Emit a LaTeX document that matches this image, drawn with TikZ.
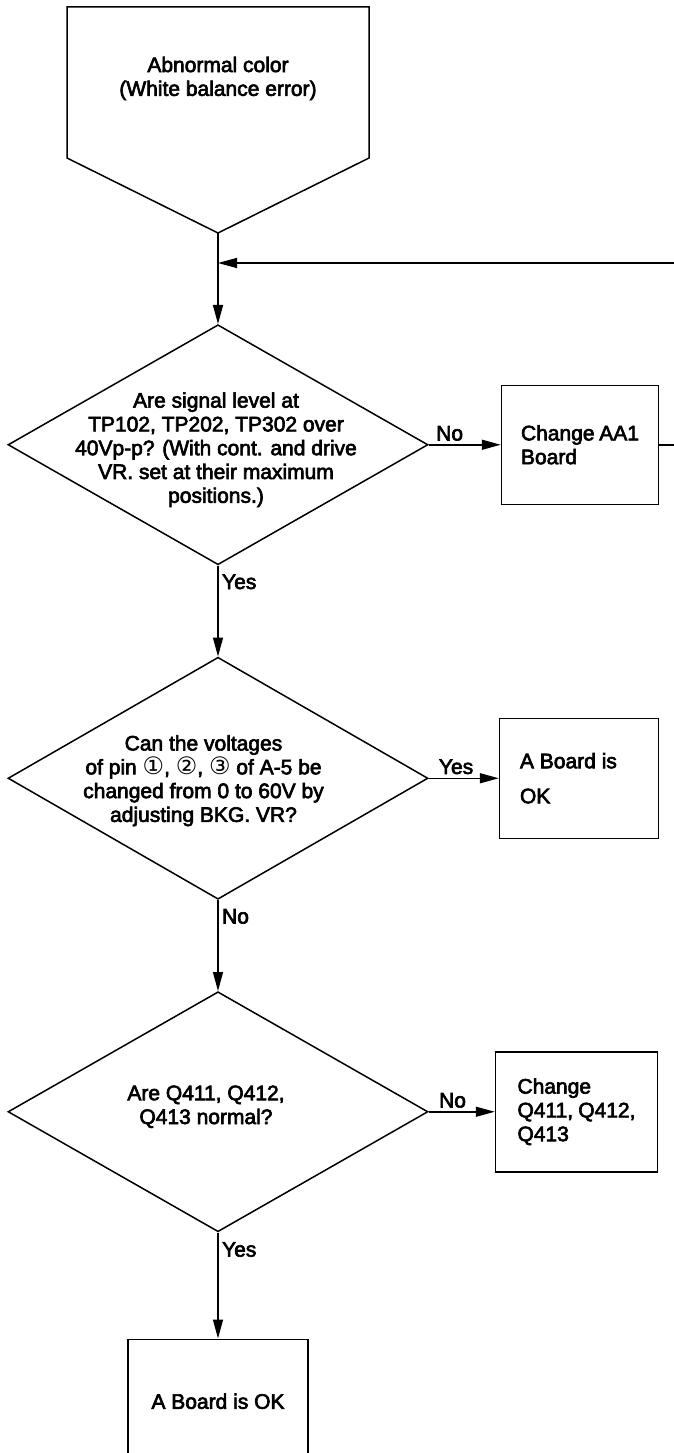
\documentclass[tikz,border=0pt]{standalone}
\usepackage{fontspec}
\setmainfont{Liberation Sans}[FakeBold=3]
\newfontfamily\dejavu{DejaVu Sans}
\usepackage{tikz}
\usetikzlibrary{positioning}
\usetikzlibrary{shapes.geometric}
\usetikzlibrary{arrows.meta}
\tikzset{flow/.style = {-{Triangle[length=19pt,width=10pt]}}}
\newcommand{\pinno}[1]{{\dejavu\fontsize{24}{23.8}\selectfont #1}}

\begin{document}
\begin{tikzpicture}[x=1pt,y=-1pt,line width=1.5pt,node distance=91pt,
    every node/.style={font=\fontsize{21}{23.8}\selectfont},
    question/.style={diamond,draw,minimum width=420pt,minimum height=240pt,inner sep=0pt},
    qtext/.style={align=flush center},
    sidebox/.style={rectangle,draw,align=flush left,text width=118pt,inner xsep=19pt,minimum height=120pt},
    endbox/.style={rectangle,draw,minimum width=180pt,minimum height=124pt}]
    \useasboundingbox (0,0) rectangle (674,1453);
    \clip (0,0) rectangle (674,1453);

    % start symbol: box with a pointed bottom
    \node[minimum width=302pt,minimum height=151pt,outer sep=0pt] (start) at (218,82.5) {};
    \coordinate[below=75pt of start.south] (tip);
    \coordinate[below=30pt of tip] (join);
    \draw (start.south west) -- (start.north west) -- (start.north east) -- (start.south east) -- (tip) -- cycle;
    \node[qtext] (starttext) at ([yshift=4pt]start.center) {Abnormal color\\(White balance error)};

    \node[question,below=of tip] (q1) {};
    \node[qtext] (q1text) at ([xshift=-2pt,yshift=-5pt]q1.center) {Are signal level at\\TP102, TP202, TP302 over\\40Vp-p? (With cont. and drive\\VR. set at their maximum\\positions.)};
    \node[sidebox,minimum width=157pt,minimum height=119pt,right=72pt of q1] (aa1) {Change~AA1\\Board};

    \node[question,minimum height=242pt,below=of q1] (q2) {};
    \node[qtext] (q2text) at ([xshift=-14.5pt,yshift=-2.5pt]q2.center) {Can the voltages\\of pin \pinno{①}, \pinno{②}, \pinno{③} of A-5 be\\changed from 0 to 60V by\\adjusting BKG. VR?};
    \node[sidebox,minimum width=159pt,right=70pt of q2] (okbox) {A Board is\\[11.2pt]OK};

    \node[question,below=of q2] (q3) {};
    \node[qtext] (q3text) at ([xshift=-12pt,yshift=5pt]q3.center) {Are Q411, Q412,\\Q413 normal?};
    \node[sidebox,minimum width=162pt,right=66pt of q3] (change) {Change\\Q411,~Q412,\\Q413};

    \node[endbox,below=106pt of q3] (done) {A Board is OK};

    \path (tip) edge[flow] (q1);
    \path (q1) edge[flow] node[pos=.29,above] {No} (aa1);
    \path (q1) edge[flow] node[pos=.18,right] {Yes} (q2);
    \path (q2) edge[flow] node[pos=.39,above] {Yes} (okbox);
    \path (q2) edge[flow] node[pos=.18,right] {No} (q3);
    \path (q3) edge[flow] node[pos=.36,above] {No} (change);
    \path (q3) edge[flow] node[pos=.16,right] {Yes} (done);

    % back to the top after the board is changed
    \draw[flow] (aa1.east) -- ++(200pt,0) |- (join);
\end{tikzpicture}
\end{document}
